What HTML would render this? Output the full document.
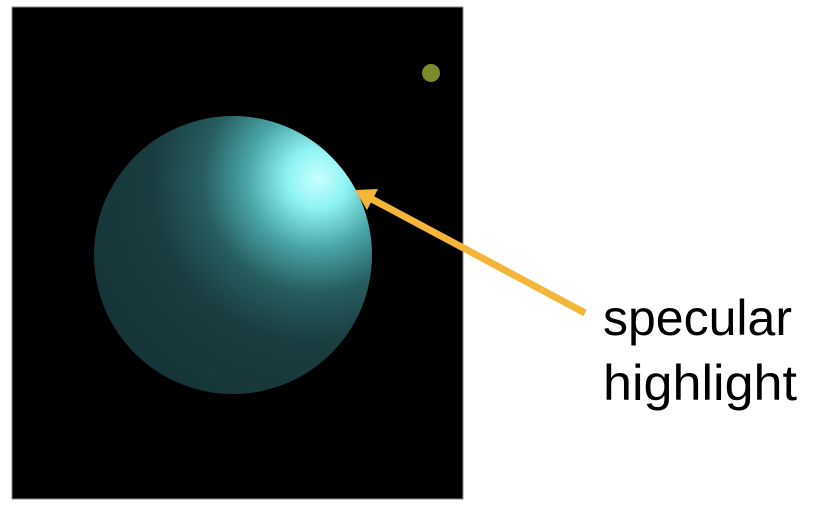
<!DOCTYPE html>
<html><head><meta charset="utf-8"><style>
html,body{margin:0;padding:0;background:#fff;width:822px;height:508px;overflow:hidden}
</style></head><body>
<svg width="822" height="508" viewBox="0 0 822 508">
<defs>
<radialGradient id="sg" gradientUnits="userSpaceOnUse" cx="312" cy="182" r="250" fx="318" fy="178">
<stop offset="0" stop-color="#c8ffff"/>
<stop offset="0.12" stop-color="#8ff3f3"/>
<stop offset="0.28" stop-color="#49a4a6"/>
<stop offset="0.45" stop-color="#275d60"/>
<stop offset="0.65" stop-color="#1a3d40"/>
<stop offset="1" stop-color="#163437"/>
</radialGradient>
</defs>
<rect x="12" y="7" width="451" height="492" fill="#000" stroke="#888" stroke-width="1"/>
<circle cx="233" cy="255" r="139" fill="url(#sg)"/>
<circle cx="431" cy="73" r="9" fill="#7a8b2a"/>
<g>
<line x1="585" y1="313" x2="368" y2="197" stroke="#f5b538" stroke-width="7"/>
<polygon points="355,190 378,189 367,210" fill="#f5b538"/>
</g>
<text x="603" y="335" font-family="Liberation Sans, sans-serif" font-size="50" fill="#000" textLength="189" lengthAdjust="spacingAndGlyphs">specular</text>
<text x="603" y="400" font-family="Liberation Sans, sans-serif" font-size="50" fill="#000" textLength="194" lengthAdjust="spacingAndGlyphs">highlight</text>
</svg>
</body></html>
